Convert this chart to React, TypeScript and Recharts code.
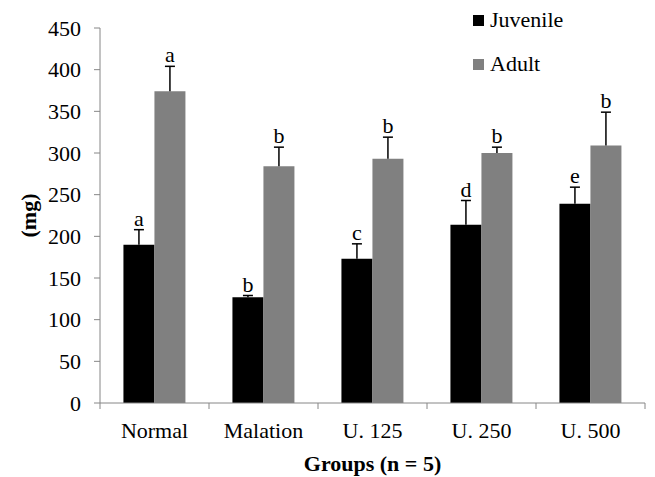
import { BarChart, Bar, XAxis, YAxis, Legend, LabelList } from "recharts";

const groups = ["Normal", "Malation", "U. 125", "U. 250", "U. 500"];
const juvenile = [190, 127, 173, 214, 239];
const juvenileErr = [18, 2, 18, 29, 20];
const juvenileLetters = ["a", "b", "c", "d", "e"];
const adult = [374, 284, 293, 300, 309];
const adultErr = [30, 23, 26, 7, 40];
const adultLetters = ["a", "b", "b", "b", "b"];
const yTicks = [0, 50, 100, 150, 200, 250, 300, 350, 400, 450];

const data = groups.map((g, i) => ({ group: g, juvenile: juvenile[i], adult: adult[i] }));

const W = 655;
const H = 477;
const MARGIN = { top: 28, right: 10, left: 0, bottom: 0 };
const Y_AXIS_W = 100;
const X_AXIS_H = 74;
const BAND = (W - MARGIN.left - MARGIN.right - Y_AXIS_W) / groups.length;
const FONT = "Liberation Serif, Times New Roman, serif";
const FS = 22;
const AXIS = "#868686";

// error bar (upper half only) + significance letter drawn on top of each bar
function errorMark(values: number[], errs: number[], letters: string[]) {
  return (props: any) => {
    const vb = props.viewBox && props.viewBox.width != null ? props.viewBox : props;
    const { x, y, width, height } = vb;
    const v = Number(props.value);
    const i = props.index != null ? props.index : values.indexOf(v);
    const px = v ? (errs[i] * height) / v : 0;
    const cx = x + width / 2;
    const top = y - px;
    return (
      <g>
        <line x1={cx} x2={cx} y1={y} y2={top} stroke="#000" strokeWidth={1.5} />
        <line x1={cx - 5} x2={cx + 5} y1={top} y2={top} stroke="#000" strokeWidth={1.5} />
        <text x={cx} y={top - 4} textAnchor="middle" fontSize={FS} fontFamily={FONT} fill="#000">
          {letters[i]}
        </text>
      </g>
    );
  };
}

function GroupTick({ x, y, payload }: any) {
  const last = payload.index === groups.length - 1;
  return (
    <g>
      <line x1={x - BAND / 2} x2={x - BAND / 2} y1={y} y2={y + 6} stroke={AXIS} />
      {last && <line x1={x + BAND / 2} x2={x + BAND / 2} y1={y} y2={y + 6} stroke={AXIS} />}
      <text x={x} y={y + 35} textAnchor="middle" fontSize={FS} fontFamily={FONT} fill="#000">
        {payload.value}
      </text>
    </g>
  );
}

function LegendBox() {
  const items = [
    { name: "Juvenile", color: "#000000" },
    { name: "Adult", color: "#808080" },
  ];
  return (
    <div style={{ fontFamily: FONT, fontSize: FS, color: "#000", lineHeight: 1 }}>
      {items.map((it) => (
        <div key={it.name} style={{ display: "flex", alignItems: "center", height: 44 }}>
          <span style={{ width: 11, height: 11, background: it.color, marginRight: 6 }} />
          <span>{it.name}</span>
        </div>
      ))}
    </div>
  );
}

export default function App() {
  return (
    <div style={{ width: W, height: H, background: "#fff" }}>
      <style>{"body{margin:0}"}</style>
      <BarChart
        width={W}
        height={H}
        data={data}
        margin={MARGIN}
        barGap={0}
        barCategoryGap="21.5%"
      >
        <XAxis
          dataKey="group"
          height={X_AXIS_H}
          stroke={AXIS}
          tickLine={false}
          tickSize={0}
          tickMargin={0}
          tick={<GroupTick />}
          interval={0}
          label={(p: any) => {
            const vb = p.viewBox;
            return (
              <text
                x={vb.x + vb.width / 2}
                y={vb.y + 68}
                textAnchor="middle"
                fontSize={FS}
                fontWeight="bold"
                fontFamily={FONT}
                fill="#000"
              >
                Groups (n = 5)
              </text>
            );
          }}
        />
        <YAxis
          width={Y_AXIS_W}
          domain={[0, 450]}
          ticks={yTicks}
          interval={0}
          stroke={AXIS}
          tickSize={6}
          tickMargin={13}
          tick={{ fill: "#000", fontSize: FS, fontFamily: FONT }}
          label={(p: any) => {
            const vb = p.viewBox;
            const cx = 28;
            const cy = vb.y + vb.height / 2;
            return (
              <text
                x={cx}
                y={cy}
                transform={`rotate(-90 ${cx} ${cy})`}
                textAnchor="middle"
                dominantBaseline="central"
                fontSize={FS}
                fontWeight="bold"
                fontFamily={FONT}
                fill="#000"
              >
                (mg)
              </text>
            );
          }}
        />
        <Legend
          layout="vertical"
          align="center"
          verticalAlign="middle"
          content={<LegendBox />}
          wrapperStyle={{ left: 473, top: -2, width: 170 }}
        />
        <Bar dataKey="juvenile" name="Juvenile" fill="#000000" isAnimationActive={false}>
          <LabelList dataKey="juvenile" content={errorMark(juvenile, juvenileErr, juvenileLetters)} />
        </Bar>
        <Bar dataKey="adult" name="Adult" fill="#808080" isAnimationActive={false}>
          <LabelList dataKey="adult" content={errorMark(adult, adultErr, adultLetters)} />
        </Bar>
      </BarChart>
    </div>
  );
}
